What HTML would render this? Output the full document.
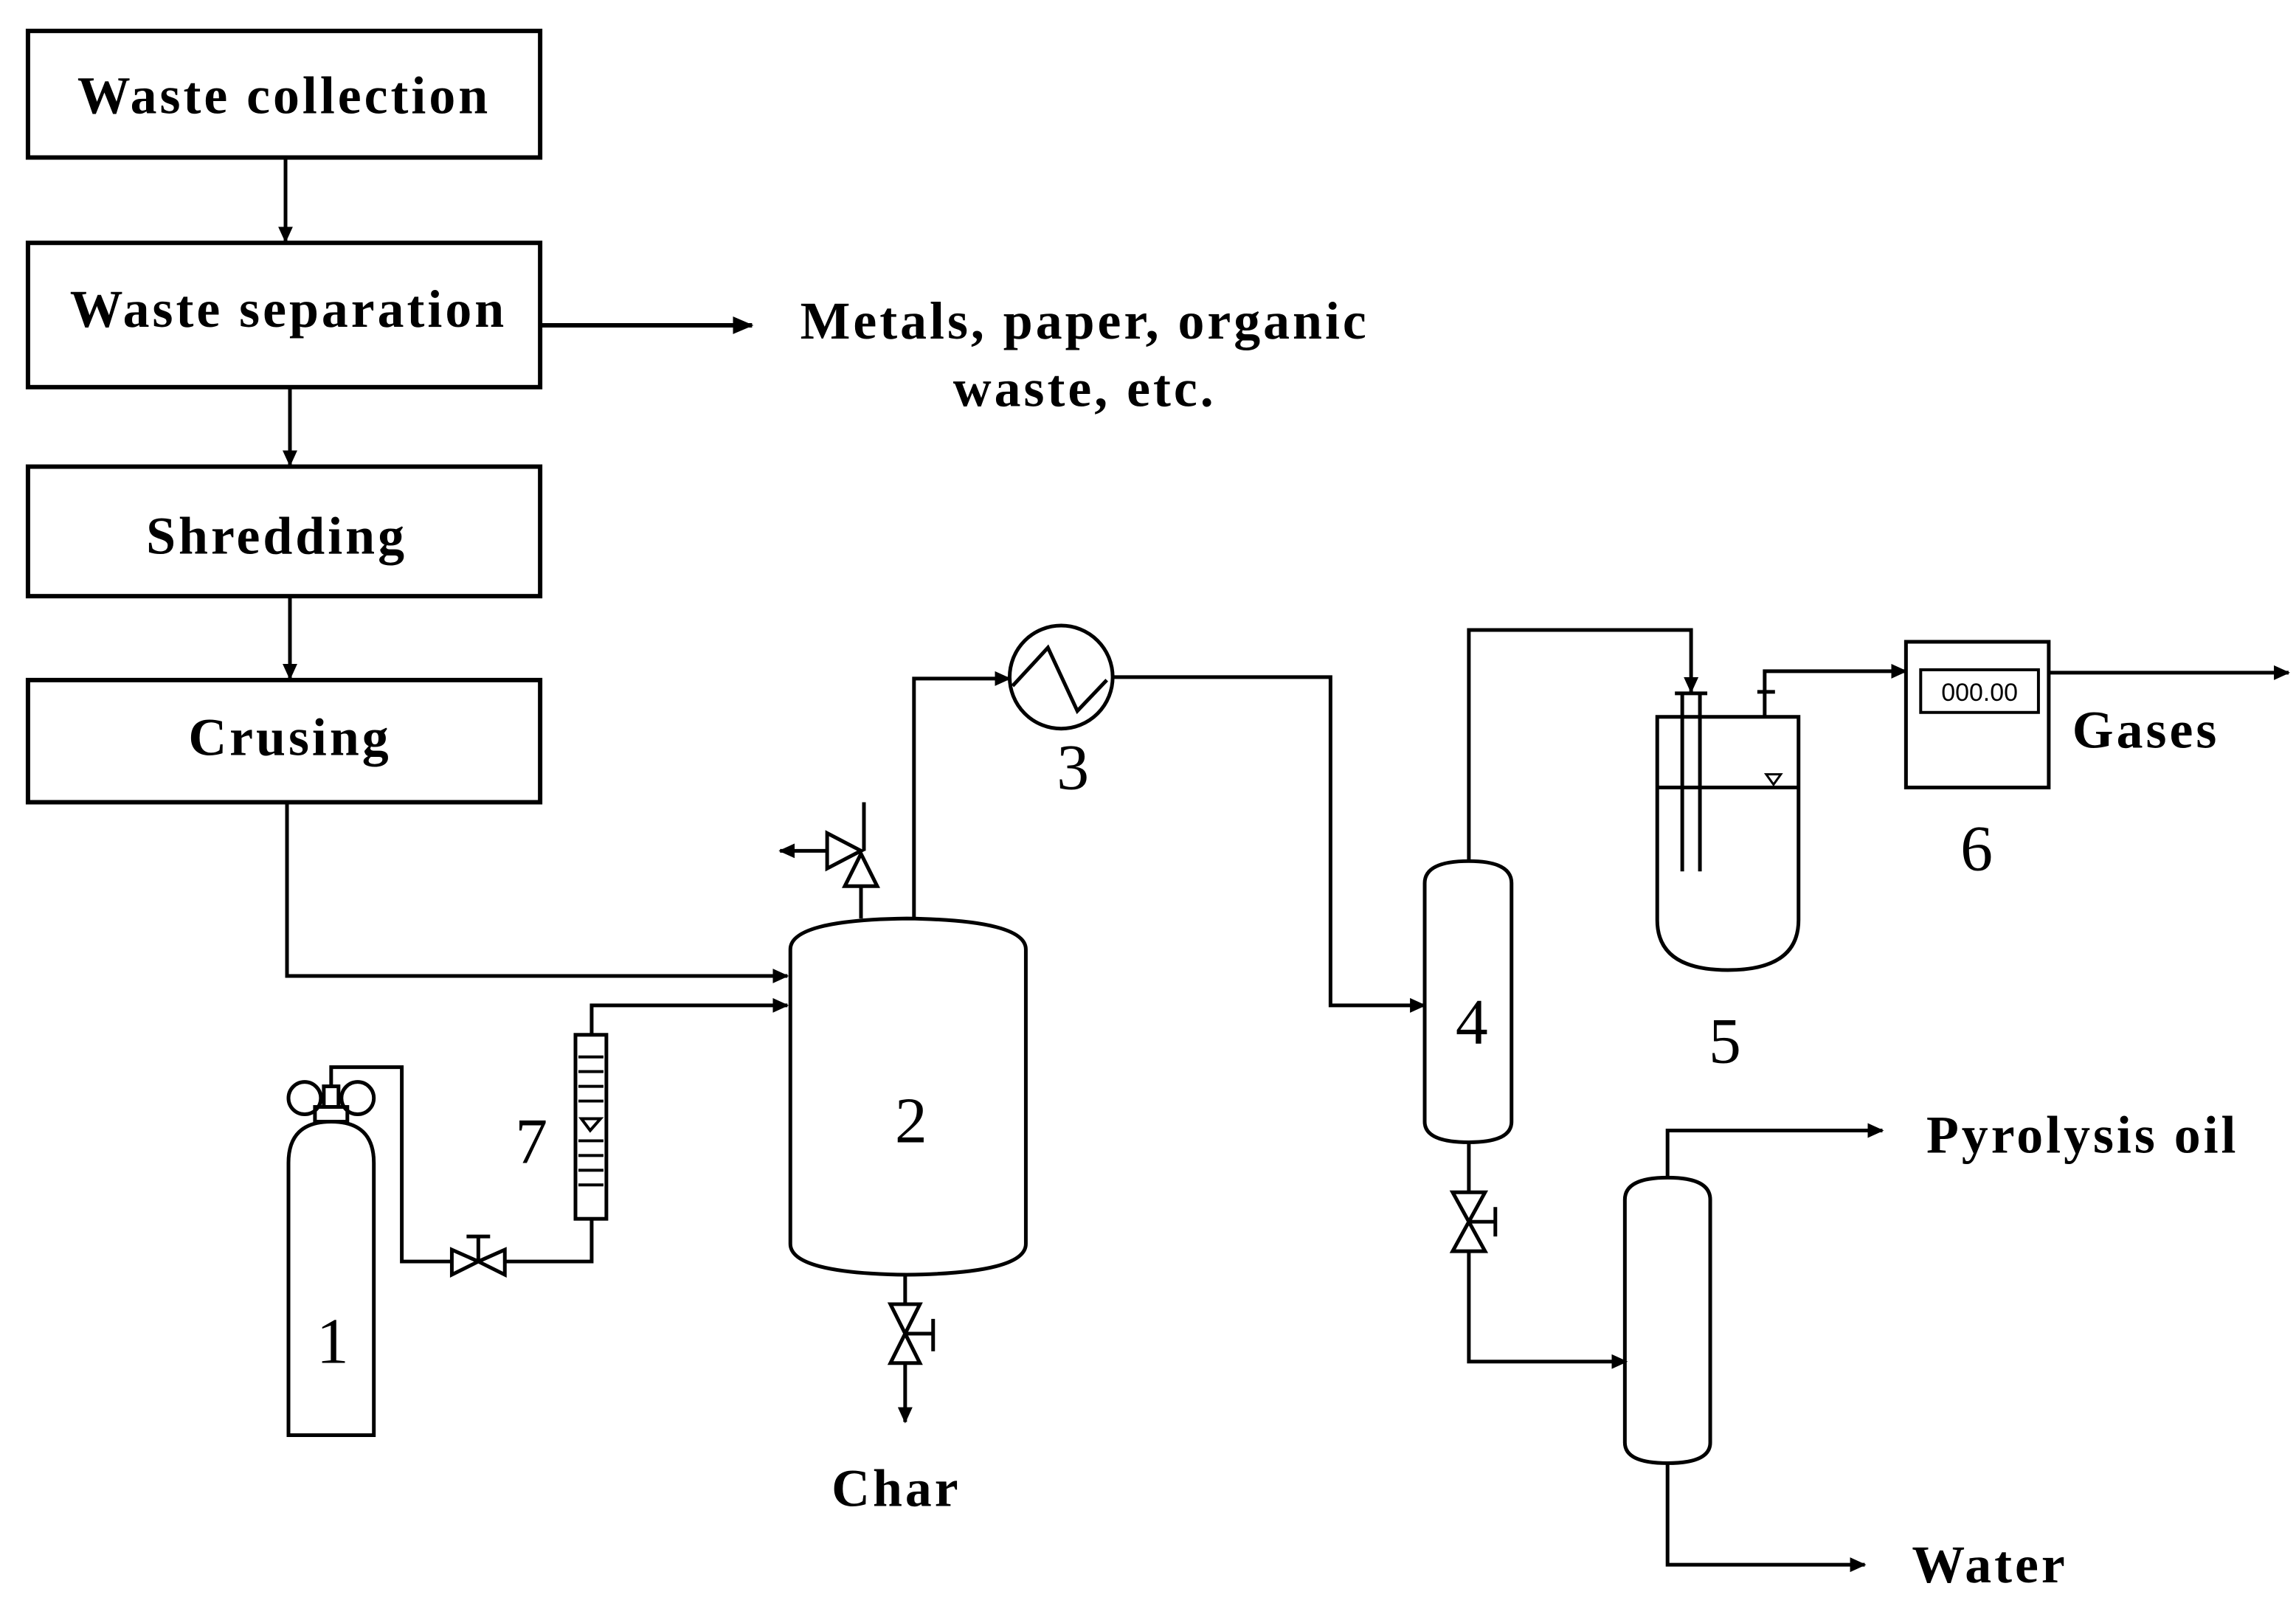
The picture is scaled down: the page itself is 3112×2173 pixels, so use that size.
<!DOCTYPE html>
<html><head><meta charset="utf-8"><style>
html,body{margin:0;padding:0;background:#fff}
svg{display:block}
.b{font-family:"Liberation Serif",serif;font-weight:bold;fill:#000;letter-spacing:2px}
.r{font-family:"Liberation Serif",serif;fill:#000}
</style></head><body>
<svg width="3112" height="2173" viewBox="0 0 1560 1089" preserveAspectRatio="none" xmlns="http://www.w3.org/2000/svg">
<defs>
<marker id="a" markerWidth="11" markerHeight="10" refX="10" refY="5" orient="auto" markerUnits="userSpaceOnUse">
<path d="M0,0 L11,5 L0,10 Z" fill="#000"/></marker>
<marker id="A" markerWidth="14" markerHeight="12" refX="13" refY="6" orient="auto" markerUnits="userSpaceOnUse">
<path d="M0,0 L14,6 L0,12 Z" fill="#000"/></marker>
</defs>
<rect width="1560" height="1089" fill="#fff"/>
<g fill="none" stroke="#000" stroke-width="3">
<rect x="19" y="21" width="348" height="86"/>
<rect x="19" y="165" width="348" height="98"/>
<rect x="19" y="317" width="348" height="88"/>
<rect x="19" y="462" width="348" height="83"/>
</g>
<g fill="none" stroke="#000" stroke-width="2.5">
<line x1="194" y1="107" x2="194" y2="164" marker-end="url(#a)"/>
<line x1="197" y1="263" x2="197" y2="316" marker-end="url(#a)"/>
<line x1="197" y1="405" x2="197" y2="461" marker-end="url(#a)"/>
<line x1="367" y1="221" x2="511" y2="221" stroke-width="3" marker-end="url(#A)"/>
<polyline points="195,545 195,663 535,663" marker-end="url(#a)"/>
<polyline points="402,703 402,683 535,683" marker-end="url(#a)"/>
<path d="M537,645 Q537,625 616,624 Q697,625 697,645 L697,845 Q697,865 616,866 Q537,865 537,845 Z"/>
<line x1="585" y1="624" x2="585" y2="602"/>
<path d="M574,602 L596,602 L585,580 Z"/>
<path d="M562,566 L562,590 L585,578 Z"/>
<line x1="562" y1="578" x2="530" y2="578" marker-end="url(#a)"/>
<line x1="587" y1="578" x2="587" y2="545"/>
<polyline points="621,624 621,461 686,461" marker-end="url(#a)"/>
<circle cx="721" cy="460" r="35"/>
<polyline points="688,466 712,440 732,483 752,462"/>
<polyline points="756,460 904,460 904,683 968,683" marker-end="url(#a)"/>
<path d="M968,600 Q968,585 998,585 Q1027,585 1027,600 L1027,762 Q1027,776 998,776 Q968,776 968,762 Z"/>
<polyline points="998,585 998,428 1149,428 1149,470" marker-end="url(#a)"/>
<path d="M1126,487 L1222,487 L1222,625 Q1222,659 1174,659 Q1126,659 1126,625 Z"/>
<line x1="1126" y1="535" x2="1222" y2="535"/>
<line x1="1143" y1="470" x2="1143" y2="592"/>
<line x1="1155" y1="470" x2="1155" y2="592"/>
<line x1="1138" y1="471" x2="1160" y2="471"/>
<line x1="1199" y1="487" x2="1199" y2="470"/>
<line x1="1194" y1="470" x2="1206" y2="470"/>
<path d="M1200,526 L1210,526 L1205,533 Z" stroke-width="1.5"/>
<polyline points="1199,470 1199,456 1295,456" marker-end="url(#a)"/>
<rect x="1295" y="436" width="97" height="99"/>
<rect x="1305" y="455" width="80" height="29" stroke-width="2"/>
<line x1="1392" y1="457" x2="1555" y2="457" marker-end="url(#a)"/>
<line x1="998" y1="776" x2="998" y2="810"/>
<path d="M987,810 L1009,810 L998,830 Z M987,850 L1009,850 L998,830 Z"/>
<line x1="998" y1="830" x2="1016" y2="830"/>
<line x1="1016" y1="820" x2="1016" y2="840"/>
<polyline points="998,850 998,925 1105,925" marker-end="url(#a)"/>
<path d="M1104,815 Q1104,800 1133,800 Q1162,800 1162,815 L1162,980 Q1162,994 1133,994 Q1104,994 1104,980 Z"/>
<polyline points="1133,800 1133,768 1279,768" marker-end="url(#a)"/>
<polyline points="1133,994 1133,1063 1267,1063" marker-end="url(#a)"/>
<line x1="615" y1="866" x2="615" y2="886"/>
<path d="M605,886 L625,886 L615,906 Z M605,926 L625,926 L615,906 Z"/>
<line x1="615" y1="906" x2="634" y2="906"/>
<line x1="634" y1="896" x2="634" y2="918"/>
<line x1="615" y1="926" x2="615" y2="966" marker-end="url(#a)"/>
<path d="M196,975 L196,790 Q196,762 225,762 Q254,762 254,790 L254,975 Z"/>
<rect x="214" y="752" width="22" height="10"/>
<circle cx="207" cy="746" r="11"/>
<circle cx="243" cy="746" r="11"/>
<rect x="220" y="738" width="10" height="14"/>
<polyline points="225,738 225,725 273,725 273,857 307,857"/>
<path d="M307,849 L307,866 L325,857 Z M343,849 L343,866 L325,857 Z"/>
<line x1="325" y1="857" x2="325" y2="840"/>
<line x1="317" y1="840" x2="333" y2="840"/>
<polyline points="343,857 402,857 402,828"/>
<rect x="391" y="703" width="21" height="125"/>
<g stroke-width="2"><line x1="393" y1="718" x2="410" y2="718"/><line x1="393" y1="728" x2="410" y2="728"/><line x1="393" y1="738" x2="410" y2="738"/><line x1="393" y1="748" x2="410" y2="748"/><line x1="393" y1="775" x2="410" y2="775"/><line x1="393" y1="785" x2="410" y2="785"/><line x1="393" y1="795" x2="410" y2="795"/><line x1="393" y1="805" x2="410" y2="805"/>
<path d="M395,760 L408,760 L401,768 Z"/></g>
</g>
<g class="b" font-size="36" text-anchor="middle">
<text x="193" y="77">Waste collection</text>
<text x="196" y="222">Waste separation</text>
<text x="188" y="376">Shredding</text>
<text x="197" y="513">Crusing</text>
<text x="737" y="230">Metals, paper, organic</text>
<text x="737" y="276">waste, etc.</text>
<text x="1458" y="508">Gases</text>
<text x="1415" y="783">Pyrolysis oil</text>
<text x="1352" y="1075">Water</text>
<text x="609" y="1023">Char</text>
</g>
<g class="r" font-size="44" text-anchor="middle">
<text x="619" y="776">2</text>
<text x="729" y="536">3</text>
<text x="1000" y="709">4</text>
<text x="1172" y="722">5</text>
<text x="1343" y="591">6</text>
<text x="361" y="790">7</text>
<text x="226" y="926">1</text>
</g>
<text x="1345" y="476" text-anchor="middle" font-family="Liberation Sans,sans-serif" font-size="17" fill="#000">000.00</text>
</svg>
</body></html>
